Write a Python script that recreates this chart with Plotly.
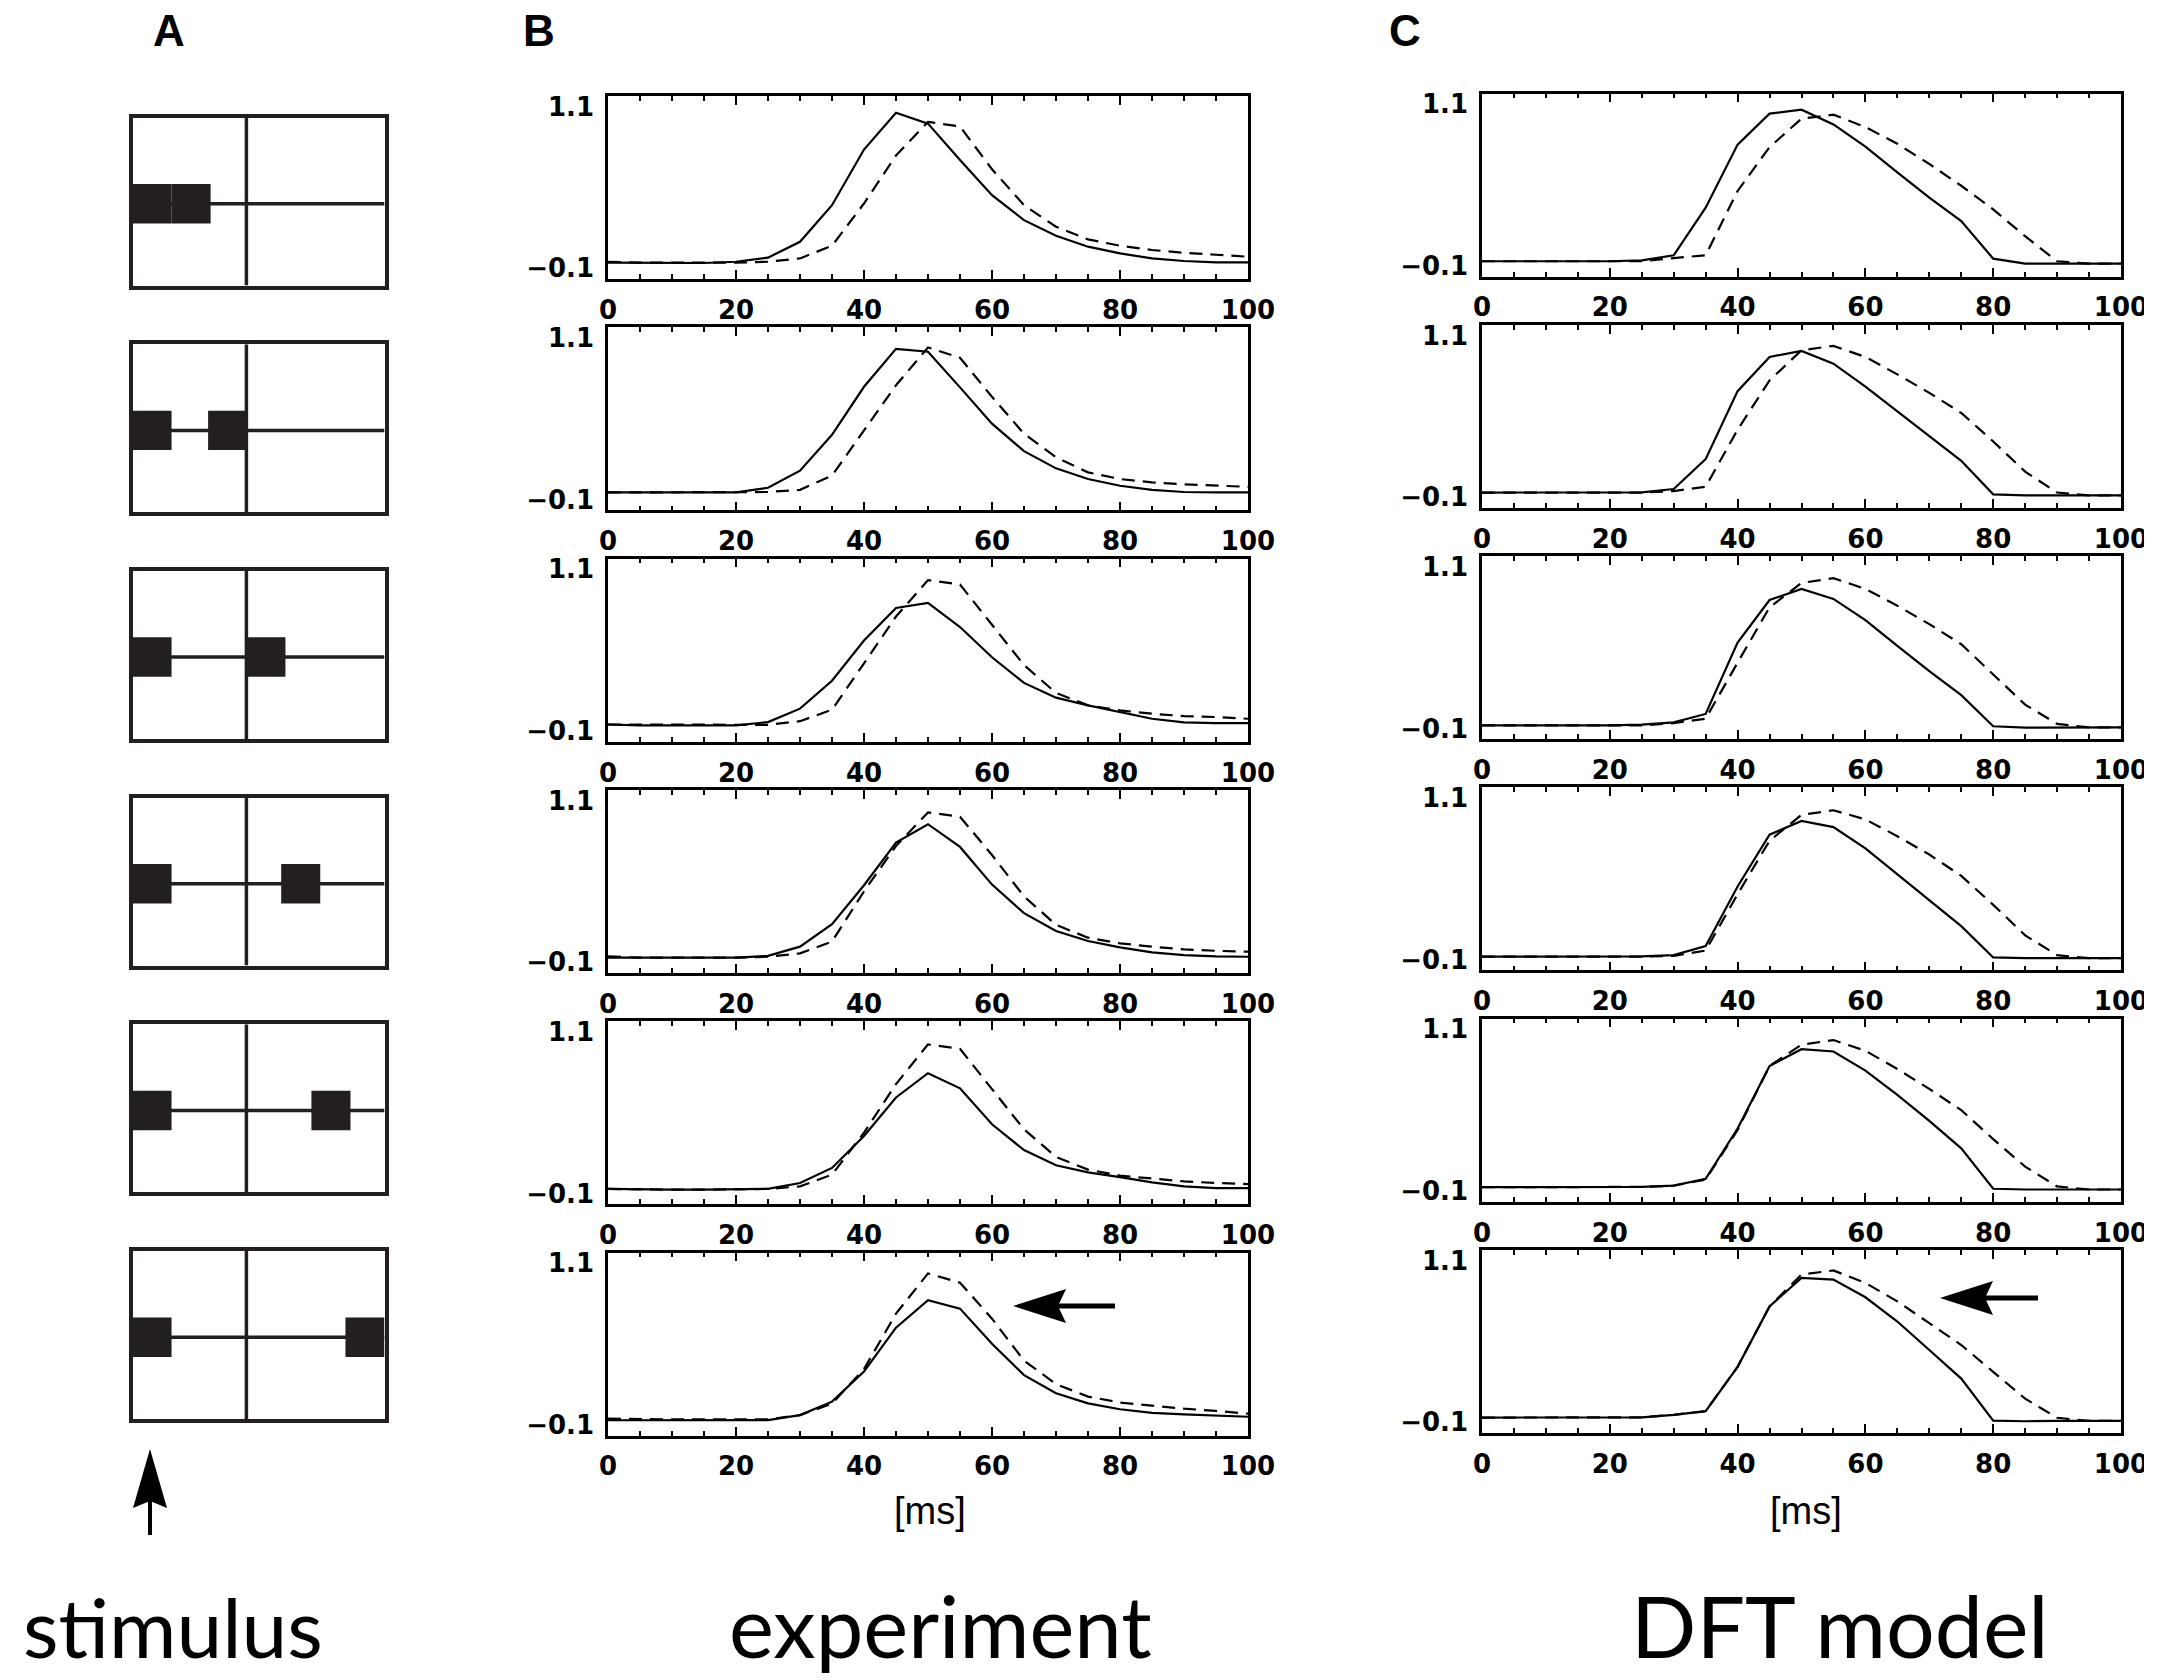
import plotly.graph_objects as go

# ---------------- data ----------------
TIME_MS = [0, 5, 10, 15, 20, 25, 30, 35, 40, 45, 50, 55, 60, 65, 70, 75, 80, 85, 90, 95, 100]
X_TICK_VALS = [0, 20, 40, 60, 80, 100]
X_TICK_TEXT = ["0", "20", "40", "60", "80", "100"]
Y_TICK_TEXT = ["1.1", "\u22120.1"]
Y_RANGE = [-0.1, 1.1]

# experiment (column B): solid and dashed curves per stimulus row
B_SOLID = [
    [0.007, 0.005, 0.005, 0.005, 0.013, 0.04, 0.144, 0.384, 0.749, 0.99, 0.919, 0.68, 0.45, 0.286, 0.184, 0.112, 0.068, 0.035, 0.018, 0.009, 0.009],
    [0.017, 0.017, 0.017, 0.017, 0.017, 0.048, 0.16, 0.395, 0.71, 0.959, 0.94, 0.706, 0.468, 0.288, 0.175, 0.105, 0.061, 0.034, 0.02, 0.017, 0.017],
    [0.012, 0.006, 0.006, 0.006, 0.006, 0.028, 0.116, 0.299, 0.563, 0.776, 0.809, 0.651, 0.453, 0.285, 0.188, 0.138, 0.094, 0.05, 0.026, 0.021, 0.021],
    [0.0, 0.0, 0.0, 0.0, 0.0, 0.012, 0.072, 0.219, 0.475, 0.754, 0.875, 0.726, 0.479, 0.292, 0.175, 0.109, 0.067, 0.034, 0.017, 0.008, 0.006],
    [0.0, -0.004, -0.005, -0.005, -0.004, 0.001, 0.039, 0.138, 0.347, 0.6, 0.759, 0.66, 0.424, 0.255, 0.155, 0.109, 0.078, 0.043, 0.017, 0.006, 0.006],
    [0.0, 0.001, 0.001, 0.001, 0.001, 0.001, 0.034, 0.122, 0.32, 0.607, 0.787, 0.732, 0.501, 0.296, 0.177, 0.111, 0.072, 0.048, 0.039, 0.032, 0.023],
]
B_DASH = [
    [0.013, 0.007, 0.007, 0.007, 0.007, 0.013, 0.035, 0.118, 0.395, 0.71, 0.93, 0.90, 0.62, 0.384, 0.243, 0.16, 0.118, 0.09, 0.072, 0.059, 0.046],
    [0.017, 0.017, 0.017, 0.017, 0.017, 0.02, 0.034, 0.127, 0.424, 0.72, 0.968, 0.90, 0.644, 0.402, 0.248, 0.149, 0.105, 0.083, 0.07, 0.061, 0.054],
    [0.012, 0.012, 0.012, 0.012, 0.012, 0.01, 0.034, 0.109, 0.413, 0.72, 0.959, 0.93, 0.666, 0.402, 0.219, 0.138, 0.105, 0.083, 0.067, 0.061, 0.05],
    [0.008, 0.0, 0.0, 0.0, 0.0, 0.006, 0.028, 0.105, 0.435, 0.732, 0.952, 0.924, 0.673, 0.402, 0.215, 0.131, 0.094, 0.072, 0.054, 0.045, 0.039],
    [0.0, -0.004, -0.005, -0.005, -0.004, 0.0, 0.017, 0.094, 0.369, 0.688, 0.948, 0.919, 0.655, 0.391, 0.21, 0.127, 0.087, 0.067, 0.05, 0.039, 0.032],
    [0.01, 0.006, 0.006, 0.006, 0.006, 0.006, 0.034, 0.109, 0.336, 0.699, 0.963, 0.902, 0.666, 0.391, 0.237, 0.155, 0.116, 0.094, 0.076, 0.061, 0.043],
]

# DFT model (column C)
C_SOLID = [
    [0.0, 0.0, 0.0, 0.0, 0.0, 0.006, 0.039, 0.351, 0.765, 0.968, 0.994, 0.897, 0.752, 0.583, 0.417, 0.263, 0.017, -0.016, -0.016, -0.016, -0.016],
    [0.0, 0.0, 0.0, 0.0, 0.0, 0.001, 0.023, 0.219, 0.665, 0.889, 0.929, 0.845, 0.694, 0.533, 0.368, 0.208, -0.012, -0.019, -0.019, -0.019, -0.019],
    [-0.01, -0.01, -0.01, -0.01, -0.01, -0.005, 0.01, 0.065, 0.533, 0.812, 0.885, 0.819, 0.68, 0.511, 0.346, 0.188, -0.016, -0.025, -0.023, -0.023, -0.023],
    [-0.01, -0.01, -0.01, -0.01, -0.01, -0.008, 0.0, 0.06, 0.45, 0.79, 0.88, 0.84, 0.70, 0.53, 0.36, 0.19, -0.015, -0.02, -0.02, -0.02, -0.02],
    [-0.005, -0.005, -0.005, -0.005, -0.005, -0.003, 0.005, 0.05, 0.38, 0.79, 0.90, 0.885, 0.76, 0.60, 0.43, 0.25, -0.015, -0.02, -0.02, -0.02, -0.02],
    [0.001, 0.001, 0.001, 0.001, 0.001, 0.003, 0.019, 0.043, 0.334, 0.73, 0.917, 0.906, 0.79, 0.631, 0.444, 0.257, -0.019, -0.023, -0.021, -0.021, -0.021],
]
C_DASH = [
    [0.0, 0.0, 0.0, 0.0, 0.0, 0.0, 0.021, 0.039, 0.461, 0.748, 0.935, 0.961, 0.88, 0.77, 0.638, 0.495, 0.34, 0.164, 0.0, -0.016, -0.016],
    [0.0, 0.0, 0.0, 0.0, 0.0, 0.0, 0.01, 0.038, 0.412, 0.735, 0.933, 0.962, 0.889, 0.775, 0.654, 0.522, 0.335, 0.137, 0.0, -0.019, -0.019],
    [-0.01, -0.01, -0.01, -0.01, -0.01, -0.01, 0.005, 0.034, 0.401, 0.764, 0.924, 0.955, 0.885, 0.775, 0.654, 0.522, 0.324, 0.126, 0.0, -0.023, -0.023],
    [-0.01, -0.01, -0.01, -0.01, -0.01, -0.01, -0.005, 0.03, 0.40, 0.75, 0.92, 0.95, 0.89, 0.78, 0.66, 0.52, 0.33, 0.13, 0.0, -0.02, -0.02],
    [-0.005, -0.005, -0.005, -0.005, -0.005, -0.003, 0.005, 0.045, 0.37, 0.79, 0.93, 0.96, 0.89, 0.77, 0.64, 0.50, 0.31, 0.13, 0.0, -0.02, -0.02],
    [0.001, 0.001, 0.001, 0.001, 0.001, 0.003, 0.019, 0.043, 0.334, 0.73, 0.939, 0.966, 0.884, 0.763, 0.62, 0.477, 0.301, 0.125, 0.0, -0.021, -0.021],
]

# stimulus (column A): left edge of the second square, as fraction of box width
SECOND_SQUARE_LEFT = [0.155, 0.30, 0.452, 0.59, 0.71, 0.845]
FIRST_SQUARE_LEFT = 0.0
SQUARE_W = 0.155
SQUARE_H = 0.235

PANEL_LABELS = ["A", "B", "C"]
COLUMN_TITLES = ["stimulus", "experiment", "DFT model"]
AXIS_TITLE = "[ms]"

# ---------------- layout geometry (pixels) ----------------
W, H = 2168, 1680
INK = "#231f20"


def px(x):
    return x / W


def py(y):
    return 1 - y / H


B_LEFT, B_RIGHT, B_TOP0 = 608, 1248, 96.0
C_LEFT, C_RIGHT, C_TOP0 = 1482, 2121, 93.5
ROW_PITCH, PLOT_H = 231.3, 183.0
A_LEFT, A_RIGHT, A_TOP0, A_PITCH, A_H = 132.5, 384.5, 117.5, 226.7, 168.0
Y_LABEL_INSET = 0.07
CROP_X = 2144  # reference image is cropped here

fig = go.Figure()
layout = dict(
    width=W, height=H, autosize=False,
    margin=dict(l=0, r=0, t=0, b=0, pad=0, autoexpand=False),
    paper_bgcolor="white", plot_bgcolor="white",
    showlegend=False,
)

tick_font = dict(family="DejaVu Sans", size=26, color="black", weight="bold")

columns = [(B_SOLID, B_DASH, B_LEFT, B_RIGHT, B_TOP0), (C_SOLID, C_DASH, C_LEFT, C_RIGHT, C_TOP0)]
n = 0
for solids, dashes, left, right, top0 in columns:
    for r in range(6):
        n += 1
        xa = "x" if n == 1 else f"x{n}"
        ya = "y" if n == 1 else f"y{n}"
        fig.add_trace(go.Scatter(x=TIME_MS, y=dashes[r], xaxis=xa, yaxis=ya, mode="lines",
                                 line=dict(color="black", width=2.2, dash="13px,8px"), hoverinfo="skip"))
        fig.add_trace(go.Scatter(x=TIME_MS, y=solids[r], xaxis=xa, yaxis=ya, mode="lines",
                                 line=dict(color="black", width=2.2), hoverinfo="skip"))
        top = top0 + r * ROW_PITCH
        bottom = top + PLOT_H
        layout[f"xaxis{n}" if n > 1 else "xaxis"] = dict(
            domain=[px(left), px(right)], anchor=ya, range=[0, 100], automargin=False,
            tickmode="array", tickvals=X_TICK_VALS, ticktext=X_TICK_TEXT,
            ticks="inside", ticklen=9, tickwidth=2, tickcolor="black",
            minor=dict(tick0=0, dtick=5, ticks="inside", ticklen=5, tickwidth=1.5, tickcolor="black"),
            showline=True, linewidth=2.5, linecolor="black", mirror="allticks",
            showgrid=False, zeroline=False, tickfont=tick_font, ticklabelstandoff=6,
            fixedrange=True,
        )
        layout[f"yaxis{n}" if n > 1 else "yaxis"] = dict(
            domain=[py(bottom), py(top)], anchor=xa, range=Y_RANGE, automargin=False,
            tickmode="array",
            tickvals=[Y_RANGE[1] - Y_LABEL_INSET, Y_RANGE[0] + Y_LABEL_INSET],
            ticktext=Y_TICK_TEXT, ticks="",
            showline=True, linewidth=2.5, linecolor="black", mirror=True,
            showgrid=False, zeroline=False, tickfont=tick_font, ticklabelstandoff=6,
            fixedrange=True,
        )

# stimulus boxes
shapes = []
for r in range(6):
    n += 1
    xa = f"x{n}"
    ya = f"y{n}"
    top = A_TOP0 + r * A_PITCH
    bottom = top + A_H
    fig.add_trace(go.Scatter(x=[], y=[], xaxis=xa, yaxis=ya, hoverinfo="skip"))
    layout[f"xaxis{n}"] = dict(domain=[px(A_LEFT), px(A_RIGHT)], anchor=ya, range=[0, 1], automargin=False,
                               showline=True, linewidth=4, linecolor=INK, mirror=True,
                               showticklabels=False, ticks="", showgrid=False, zeroline=False, fixedrange=True)
    layout[f"yaxis{n}"] = dict(domain=[py(bottom), py(top)], anchor=xa, range=[0, 1], automargin=False,
                               showline=True, linewidth=4, linecolor=INK, mirror=True,
                               showticklabels=False, ticks="", showgrid=False, zeroline=False, fixedrange=True)
    mid_y = 0.487
    shapes.append(dict(type="line", xref=xa, yref=ya, x0=0, x1=1, y0=mid_y, y1=mid_y,
                       line=dict(color=INK, width=3.5)))
    shapes.append(dict(type="line", xref=xa, yref=ya, x0=0.452, x1=0.452, y0=0, y1=1,
                       line=dict(color=INK, width=3.5)))
    for left in (FIRST_SQUARE_LEFT, SECOND_SQUARE_LEFT[r]):
        shapes.append(dict(type="rect", xref=xa, yref=ya, x0=left, x1=left + SQUARE_W,
                           y0=mid_y - SQUARE_H / 2, y1=mid_y + SQUARE_H / 2,
                           fillcolor=INK, line=dict(width=0)))


def poly(points):
    return "M " + " L ".join(f"{px(x):.5f},{py(y):.5f}" for x, y in points) + " Z"


# arrows (decorations)
arrow_heads = [
    [(1013, 1306), (1066, 1289), (1058, 1306), (1066, 1323)],
    [(1940, 1298), (1993, 1281), (1985, 1298), (1993, 1315)],
    [(150, 1449), (133, 1508), (150, 1501), (167, 1508)],
]
arrow_shafts = [((1058, 1306), (1115, 1306), 5), ((1985, 1298), (2038, 1298), 5), ((150, 1501), (150, 1535), 4)]
for pts in arrow_heads:
    shapes.append(dict(type="path", xref="paper", yref="paper", path=poly(pts),
                       fillcolor="black", line=dict(width=0)))
for (x0, y0), (x1, y1), w in arrow_shafts:
    shapes.append(dict(type="line", xref="paper", yref="paper", x0=px(x0), y0=py(y0), x1=px(x1), y1=py(y1),
                       line=dict(color="black", width=w)))

# the reference figure is cropped at its right edge
shapes.append(dict(type="rect", xref="paper", yref="paper", x0=px(CROP_X), x1=1, y0=0, y1=1,
                   fillcolor="white", line=dict(width=0), layer="above"))

layout["shapes"] = shapes

annotations = []
for label, (x, y) in zip(PANEL_LABELS, [(169, 30), (539, 30), (1405, 30)]):
    annotations.append(dict(text=label, x=px(x), y=py(y), xref="paper", yref="paper", showarrow=False,
                            xanchor="center", yanchor="middle",
                            font=dict(family="Liberation Sans", size=44, color="black", weight="bold")))
for title, (x, y), size in zip(COLUMN_TITLES, [(173, 1626), (940, 1625), (1840, 1624)], [82, 85, 86]):
    annotations.append(dict(text=title, x=px(x), y=py(y), xref="paper", yref="paper", showarrow=False,
                            xanchor="center", yanchor="middle",
                            font=dict(family="Lato", size=size, color="black")))
for x in (930, 1806):
    annotations.append(dict(text=AXIS_TITLE, x=px(x), y=py(1511), xref="paper", yref="paper", showarrow=False,
                            xanchor="center", yanchor="middle",
                            font=dict(family="Liberation Sans", size=38, color="black")))
layout["annotations"] = annotations

fig.update_layout(**layout)
fig.write_html(
    "out.html",
    config={"responsive": False, "displayModeBar": False},
    post_script="document.body.style.margin='0';document.body.style.overflow='hidden';",
)
